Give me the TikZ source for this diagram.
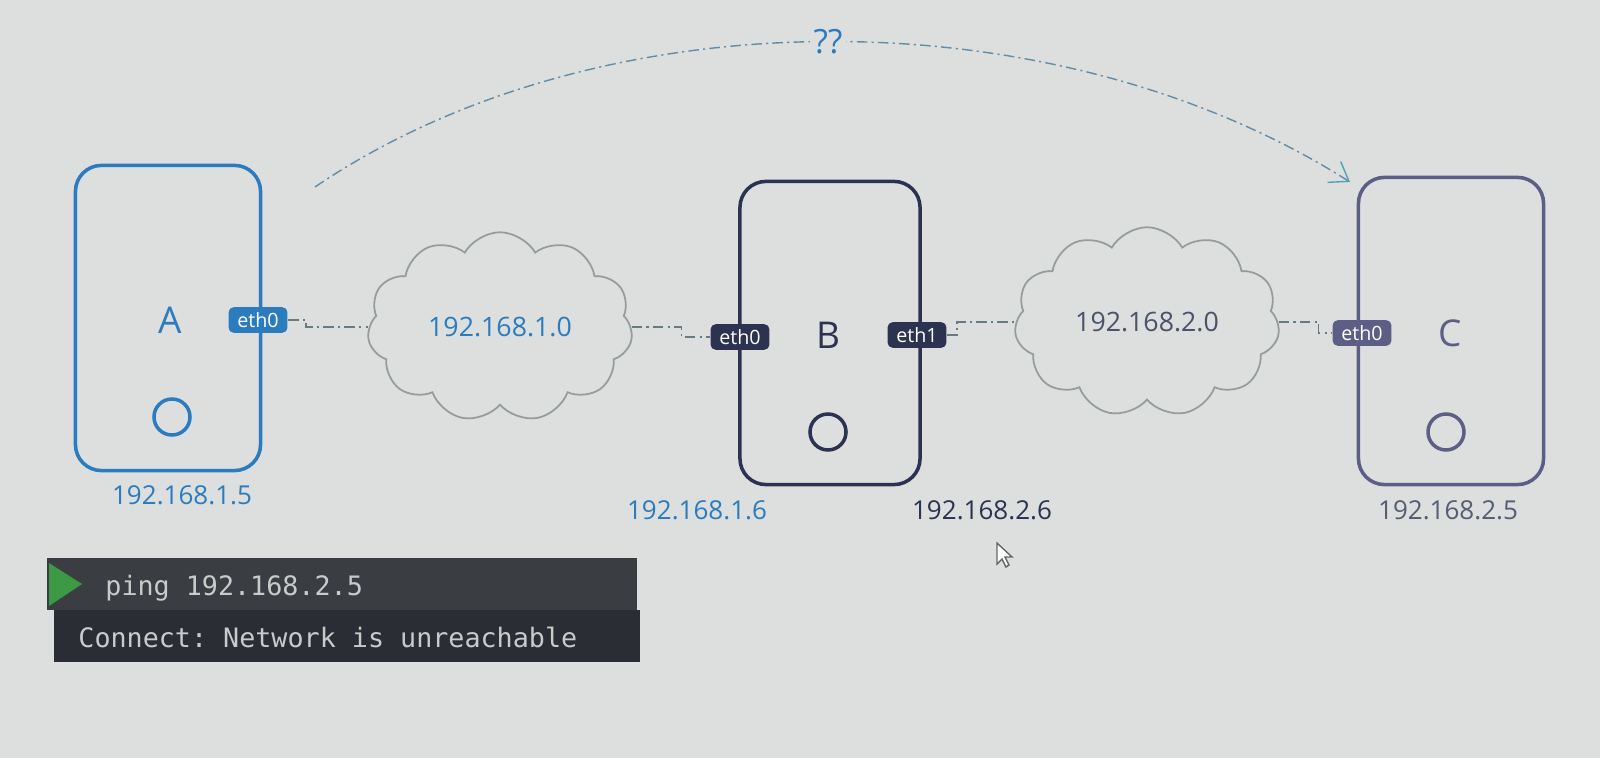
\documentclass[tikz,border=0pt]{standalone}
\usepackage{fontspec}
\setmainfont{Open Sans}
\setmonofont{DejaVu Sans Mono}
\usetikzlibrary{shapes, shapes.symbols, arrows.meta, positioning, calc}
\definecolor{Paper}{RGB}{220, 223, 221}
\definecolor{HostA}{RGB}{43, 123, 191}
\definecolor{HostB}{RGB}{43, 51, 80}
\definecolor{HostC}{RGB}{92, 94, 134}
\definecolor{CloudLine}{RGB}{150, 156, 158}
\definecolor{LinkLine}{RGB}{105, 122, 130}
\definecolor{ArcLine}{RGB}{100, 140, 165}
\definecolor{TermTop}{RGB}{58, 61, 66}
\definecolor{TermBottom}{RGB}{42, 45, 52}
\definecolor{TermText}{RGB}{200, 204, 200}
\definecolor{Go}{RGB}{60, 154, 69}

\begin{document}
\begin{tikzpicture}[x=0.01cm, y=-0.01cm,
    hostbox/.style={draw, line width=1pt, rounded corners=0.26cm, minimum width=1.85cm, minimum height=3.05cm},
    hostname/.style={font=\fontsize{10.5}{12}\selectfont},
    ethtag/.style={rounded corners=1.5pt, text=white, inner xsep=2.5pt, inner ysep=1.5pt, font=\fontsize{5.6}{6}\selectfont},
    cloudnet/.style={draw=CloudLine, line width=0.5pt, shape=cloud, cloud puffs=11, cloud puff arc=120, aspect=1.5, minimum width=2.65cm, minimum height=1.75cm, font=\fontsize{7.6}{9}\selectfont},
    iplabel/.style={font=\fontsize{7.4}{9}\selectfont},
    link/.style={draw=LinkLine, line width=0.4pt, dash pattern=on 3pt off 1.2pt on 0.6pt off 1.2pt},
    term/.style={font=\ttfamily\fontsize{7.6}{9}\selectfont, text=TermText, anchor=west}]
\fill[Paper] (0,0) rectangle (1600,758);
\useasboundingbox (0,0) rectangle (1600,758);

\node[hostbox, draw=HostA] (hostA) at (168,318) {};
\node[hostname, text=HostA] (nameA) at (170,320) {A};
\draw[HostA, line width=1pt] (172,417) circle (18);
\node[ethtag, fill=HostA] (ethA) at (258,320) {eth0};
\node[iplabel, text=HostA] (ipA) at (182,495) {192.168.1.5};

\node[hostbox, draw=HostB, minimum width=1.8cm, minimum height=3.03cm] (hostB) at (830,333) {};
\node[hostname, text=HostB] (nameB) at (828,335) {B};
\draw[HostB, line width=1pt] (828,432) circle (18);
\node[ethtag, fill=HostB] (ethBl) at (740,337) {eth0};
\node[ethtag, fill=HostB] (ethBr) at (917,335) {eth1};
\node[iplabel, text=HostA] (ipBl) at (697,510) {192.168.1.6};
\node[iplabel, text=HostB] (ipBr) at (982,510) {192.168.2.6};

\node[hostbox, draw=HostC, minimum height=3.07cm] (hostC) at (1451,331) {};
\node[hostname, text=HostC] (nameC) at (1450,333) {C};
\draw[HostC, line width=1pt] (1446,432) circle (18);
\node[ethtag, fill=HostC] (ethC) at (1362,333) {eth0};
\node[iplabel, text=HostB!80] (ipC) at (1448,510) {192.168.2.5};

\node[cloudnet, text=HostA] (net1) at (500,327) {192.168.1.0};
\node[cloudnet, text=HostB!85] (net2) at (1147,322) {192.168.2.0};

\draw[link] (ethA.east) -- ++(18,0) |- (net1.west);
\draw[link] (net1.east) -- ++(50,0) |- (ethBl.west);
\draw[link] (ethBr.east) -- ++(10,0) |- (net2.west);
\draw[link] (net2.east) -- ++(40,0) |- (ethC.west);

\coordinate (arcstart) at (315,187);
\coordinate (arcend) at (1350,182);
\draw[link, draw=ArcLine, -{Straight Barb[length=5pt, width=7pt, color=ArcLine!80!cyan]}]
    (arcstart) .. controls (600,-6) and (1053,-6) .. (arcend)
    node[pos=0.5, fill=Paper, inner sep=1pt, text=HostA, font=\fontsize{9.5}{10}\selectfont] (unknown) {??};

\draw[fill=white!90!Paper, draw=black!60, line width=0.4pt] (997,543) -- (997,564) -- (1002,559) -- (1006,567) -- (1009,565) -- (1005,557) -- (1012,557) -- cycle;

\node[fill=TermTop, minimum width=5.89cm, minimum height=0.52cm, inner sep=0pt] (pingbar) at (342,584) {};
\node[fill=TermBottom, minimum width=5.85cm, minimum height=0.52cm, inner sep=0pt] (replybar) at (347,636) {};
\fill[Go] (49,563) -- (82,584) -- (49,606) -- cycle;
\node[term] (pingcmd) at (93,588) {ping 192.168.2.5};
\node[term] (reply) at (66,637) {Connect: Network is unreachable};
\end{tikzpicture}
\end{document}
